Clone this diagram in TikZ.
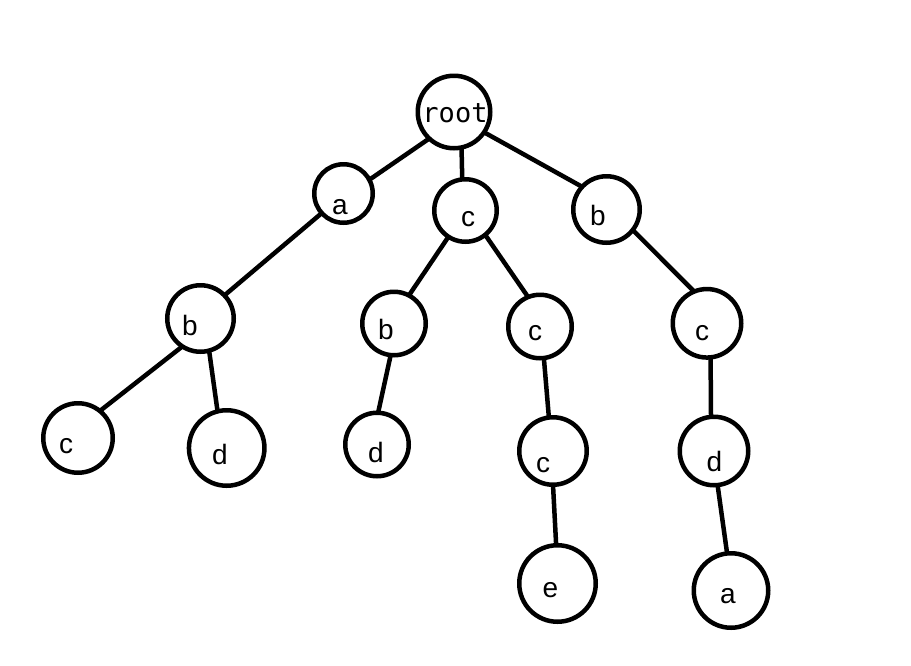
\documentclass[tikz,border=0pt]{standalone}
\usepackage{fontspec}
\setmainfont{Liberation Sans}
\newfontfamily\monofont{DejaVu Sans Mono}
\begin{document}
\begin{tikzpicture}[x=1pt,y=-1pt,
  circ/.style={circle,draw=black,line width=4.5pt,inner sep=0pt,outer sep=0pt},
  lab/.style={anchor=base,inner sep=0pt,font=\fontsize{28}{30}\selectfont},
  edge/.style={line width=4.5pt,black}]
\useasboundingbox (0,0) rectangle (911,665);
% circles: (x,y), size = 2*r - line width
\node[circ,minimum size=72.5pt] (r)  at (454,112) {};
\node[circ,minimum size=58.5pt] (a1) at (343.5,193.5) {};
\node[circ,minimum size=62.5pt] (c1) at (465.5,210.5) {};
\node[circ,minimum size=66.5pt] (b1) at (606.5,209.5) {};
\node[circ,minimum size=66.5pt] (b2) at (200.5,318.5) {};
\node[circ,minimum size=63.5pt] (b3) at (394,323.5) {};
\node[circ,minimum size=63.5pt] (c2) at (540,326.5) {};
\node[circ,minimum size=68.5pt] (c3) at (707,323.3) {};
\node[circ,minimum size=69.5pt] (c4) at (78,438) {};
\node[circ,minimum size=75.5pt] (d1) at (226.7,448) {};
\node[circ,minimum size=63.5pt] (d2) at (377,444.5) {};
\node[circ,minimum size=67.5pt] (c5) at (553,451) {};
\node[circ,minimum size=68.5pt] (d3) at (714,451) {};
\node[circ,minimum size=76.5pt] (e1) at (557.5,583.5) {};
\node[circ,minimum size=74.5pt] (a2) at (731,590.5) {};
% labels
\node[anchor=base,inner sep=0pt,font=\monofont\fontsize{27}{30}\selectfont] (lr) at (455,122.3) {root};
\node[lab] (la1) at (340,214.3) {a};
\node[lab] (lc1) at (468,226.7) {c};
\node[lab] (lb1) at (598,225.7) {b};
\node[lab] (lb2) at (190,335) {b};
\node[lab] (lb3) at (386,339) {b};
\node[lab] (lc2) at (535,340.7) {c};
\node[lab] (lc3) at (702,340) {c};
\node[lab] (lc4) at (66,453) {c};
\node[lab] (ld1) at (220,464) {d};
\node[lab] (ld2) at (376,462.7) {d};
\node[lab] (lc5) at (543,472.7) {c};
\node[lab] (ld3) at (714.5,471.5) {d};
\node[lab] (le1) at (550.5,597.3) {e};
\node[lab] (la2) at (728,603.3) {a};
% edges
\draw[edge] (r.227) -- (a1.28);
\draw[edge] (r.282) -- (c1.96);
\draw[edge] (r.326) -- (b1.137);
\draw[edge] (a1.222) -- (b2.44);
\draw[edge] (b2.237) -- (c4.51);
\draw[edge] (b2.285) -- (d1.104);
\draw[edge] (c1.237) -- (b3.62);
\draw[edge] (c1.309) -- (c2.112);
\draw[edge] (b3.264) -- (d2.88);
\draw[edge] (c2.277) -- (c5.97);
\draw[edge] (c5.270) -- (e1.92);
\draw[edge] (b1.322) -- (c3.112);
\draw[edge] (c3.276) -- (d3.95);
\draw[edge] (d3.276) -- (a2.96);
\end{tikzpicture}
\end{document}
